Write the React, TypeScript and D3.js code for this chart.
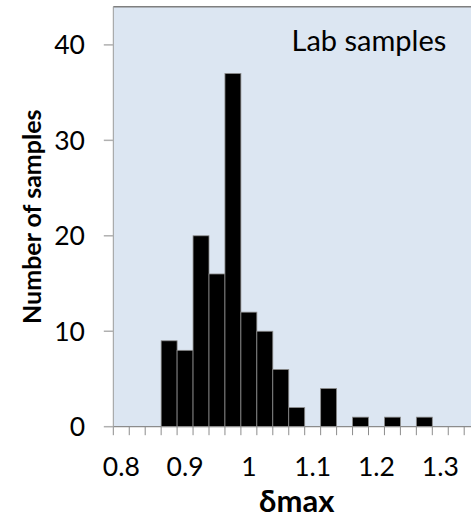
import React from "react";
import * as d3 from "d3";

const categories: number[] = [
  0.8, 0.825, 0.85, 0.875, 0.9, 0.925, 0.95, 0.975, 1.0, 1.025, 1.05, 1.075,
  1.1, 1.125, 1.15, 1.175, 1.2, 1.225, 1.25, 1.275, 1.3, 1.325, 1.35,
];
const counts: number[] = [
  0, 0, 0, 9, 8, 20, 16, 37, 12, 10, 6, 2, 0, 4, 0, 1, 0, 1, 0, 1, 0, 0, 0,
];
const yTicks: number[] = [0, 10, 20, 30, 40];
const xLabels: string[] = ["0.8", "0.9", "1", "1.1", "1.2", "1.3"];
const xLabelIndex: number[] = [0, 4, 8, 12, 16, 20];

const W = 471;
const H = 517;
const left = 113.3;
const top = 6.7;
const bottom = 426.7;
const right = left + 15.95 * categories.length;

export default function App() {
  const x = d3
    .scaleBand<number>()
    .domain(d3.range(categories.length))
    .range([left, right])
    .paddingInner(0)
    .paddingOuter(0);
  const y = d3.scaleLinear().domain([0, 44]).range([bottom, top]);
  const font = "Lato, 'Open Sans', sans-serif";
  const gray = "#8c8c8c";
  return (
    <svg
      width={W}
      height={H}
      style={{ position: "absolute", left: 0, top: 0, background: "#fff" }}
    >
      <defs>
        <clipPath id="clip">
          <rect x={0} y={0} width={W} height={H} />
        </clipPath>
      </defs>
      <g clipPath="url(#clip)">
        <rect
          x={left}
          y={top}
          width={right - left}
          height={bottom - top}
          fill="#dce6f2"
        />
        <line x1={left} x2={right} y1={top} y2={top} stroke="#7f7f7f" strokeWidth={1.5} />
        <line x1={left} x2={left} y1={top} y2={bottom} stroke="#9a9a9a" strokeWidth={1} />
        {counts.map((c, i) =>
          c > 0 ? (
            <rect
              key={i}
              x={x(i)!}
              y={y(c)}
              width={x.bandwidth()}
              height={bottom - y(c)}
              fill="#000"
              stroke="#8c8c8c"
              strokeWidth={0.8}
            />
          ) : null
        )}
        <line x1={left} x2={right} y1={bottom} y2={bottom} stroke={gray} strokeWidth={1.2} />
        {d3.range(categories.length + 1).map((i) => {
          const xx = left + x.step() * i;
          return (
            <line key={i} x1={xx} x2={xx} y1={bottom} y2={bottom + 8.5} stroke={gray} strokeWidth={1} />
          );
        })}
        {yTicks.map((t) => (
          <g key={t}>
            <line x1={left - 9.5} x2={left} y1={y(t)} y2={y(t)} stroke="#b0b0b0" strokeWidth={1.5} />
            <text
              x={85}
              y={y(t) + 9.5}
              textAnchor="end"
              fontFamily={font}
              fontSize={26.5}
              fill="#000"
            >
              {t}
            </text>
          </g>
        ))}
        {xLabels.map((l, k) => (
          <text
            key={l}
            x={x(xLabelIndex[k])! + x.bandwidth() / 2}
            y={476}
            textAnchor="middle"
            fontFamily={font}
            fontSize={26.5}
            fill="#000"
          >
            {l}
          </text>
        ))}
        <text
          x={(left + right) / 2}
          y={511.5}
          textAnchor="middle"
          fontFamily={font}
          fontWeight="bold"
          fontSize={31}
          fill="#000"
        >
          δmax
        </text>
        <text
          transform={`translate(40.5,${(top + bottom) / 2}) rotate(-90)`}
          textAnchor="middle"
          fontFamily={font}
          fontWeight="bold"
          fontSize={25}
          fill="#000"
        >
          Number of samples
        </text>
        <text x={291.5} y={50.7} fontFamily={font} fontSize={29} fill="#000">
          Lab samples
        </text>
      </g>
    </svg>
  );
}
